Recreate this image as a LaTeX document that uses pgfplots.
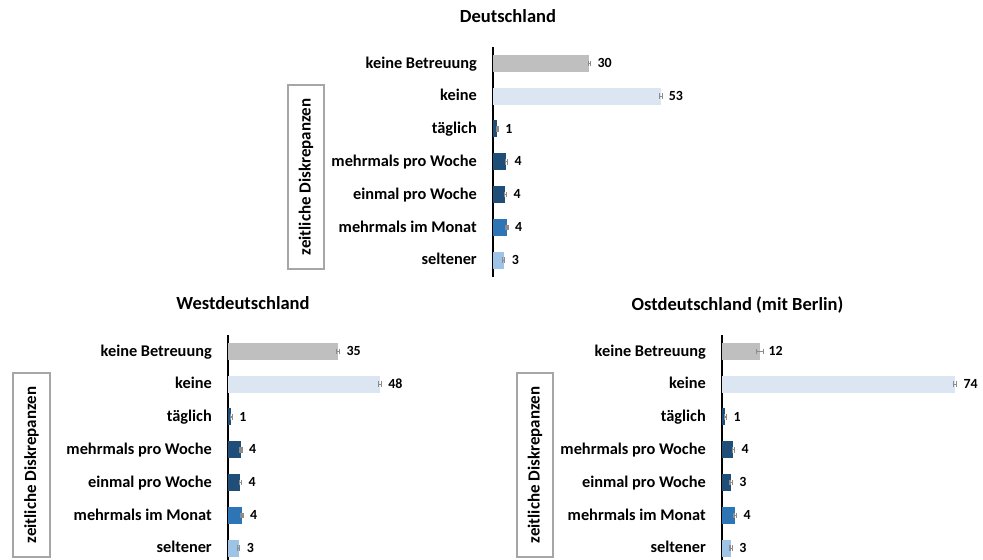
\documentclass[border=0pt]{standalone}
\usepackage{fontspec}
\setmainfont{Carlito}
\usepackage{pgfplots}
\pgfplotsset{compat=1.18}
\definecolor{cgrey}{HTML}{BFBFBF}
\definecolor{clight}{HTML}{DCE6F2}
\definecolor{cnavy}{HTML}{1F4E79}
\definecolor{cmid}{HTML}{2E75B6}
\definecolor{cpale}{HTML}{9DC3E6}
\definecolor{cerr}{HTML}{8C8C8C}
\definecolor{cbox}{HTML}{A6A6A6}

\pgfplotsset{
  panel/.style={
    scale only axis, width=253.6bp, height=229.6bp,
    xmin=0, xmax=80, ymin=-0.5, ymax=6.5, y dir=reverse,
    axis x line=none, axis y line=left,
    y axis line style={-, line width=1.4bp, black},
    ytick={0,...,6}, major tick length=0pt,
    yticklabels={keine Betreuung,keine\ ,täglich,mehrmals pro Woche,einmal pro Woche,mehrmals im Monat,seltener},
    yticklabel style={font=\fontsize{16.4}{18}\selectfont\bfseries, anchor=east, inner sep=0pt, xshift=-16bp, yshift=-1.5bp, text height=0.63em, text depth=0pt},
    clip=false,
    nodes near coords={\pgfmathprintnumber[fixed,precision=0,assume math mode=true]{\pgfplotspointmeta}},
    point meta=x,
    nodes near coords style={anchor=west, inner sep=0pt, xshift=8bp, yshift=-1bp, font=\fontsize{14}{16}\selectfont\bfseries, text height=0.63em, text depth=0pt},
  },
  b/.style={xbar, bar shift=0pt, bar width=17bp, fill=#1, draw=none,
    error bars/.cd, x dir=both, x explicit,
    error bar style={line width=1.2bp, cerr},
    error mark options={rotate=90, mark size=2.8bp, line width=1.2bp, cerr}},
}

\begin{document}
\begin{tikzpicture}
\path[use as bounding box] (0,0) rectangle (983bp,560bp);

% Deutschland
\begin{axis}[panel, at={(493bp,513bp)}, anchor=north west]
\addplot[b=cgrey]  coordinates {(30.4,0) +- (0.4,0)};
\addplot[b=clight] coordinates {(52.9,1) +- (0.5,0)};
\addplot[b=cnavy]  coordinates {(1.3,2) +- (0.3,0)};
\addplot[b=cnavy]  coordinates {(4.2,3) +- (0.3,0)};
\addplot[b=cnavy]  coordinates {(3.9,4) +- (0.3,0)};
\addplot[b=cmid]   coordinates {(4.4,5) +- (0.3,0)};
\addplot[b=cpale]  coordinates {(3.4,6) +- (0.3,0)};
\end{axis}

% Westdeutschland
\begin{axis}[panel, at={(228bp,225bp)}, anchor=north west]
\addplot[b=cgrey]  coordinates {(34.8,0) +- (0.5,0)};
\addplot[b=clight] coordinates {(48.0,1) +- (0.5,0)};
\addplot[b=cnavy]  coordinates {(1.0,2) +- (0.3,0)};
\addplot[b=cnavy]  coordinates {(4.1,3) +- (0.3,0)};
\addplot[b=cnavy]  coordinates {(3.9,4) +- (0.3,0)};
\addplot[b=cmid]   coordinates {(4.4,5) +- (0.3,0)};
\addplot[b=cpale]  coordinates {(3.4,6) +- (0.3,0)};
\end{axis}

% Ostdeutschland
\begin{axis}[panel, at={(722bp,225bp)}, anchor=north west]
\addplot[b=cgrey]  coordinates {(12.1,0) +- (1.1,0)};
\addplot[b=clight] coordinates {(73.6,1) +- (0.5,0)};
\addplot[b=cnavy]  coordinates {(1.05,2) +- (0.3,0)};
\addplot[b=cnavy]  coordinates {(3.6,3) +- (0.4,0)};
\addplot[b=cnavy]  coordinates {(2.9,4) +- (0.4,0)};
\addplot[b=cmid]   coordinates {(4.2,5) +- (0.4,0)};
\addplot[b=cpale]  coordinates {(2.9,6) +- (0.4,0)};
\end{axis}

% titles
\node[anchor=base, font=\fontsize{18.6}{21}\selectfont\bfseries] at (508bp,537bp) {Deutschland};
\node[anchor=base, font=\fontsize{18.6}{21}\selectfont\bfseries] at (243bp,250bp) {Westdeutschland};
\node[anchor=base, font=\fontsize{18.6}{21}\selectfont\bfseries] at (737.5bp,249bp) {Ostdeutschland (mit Berlin)};

% boxes
\draw[cbox, line width=1.2bp] (288bp,475bp) rectangle (324bp,291bp);
\draw[cbox, line width=1.2bp] (13bp,187bp) rectangle (50bp,3bp);
\draw[cbox, line width=1.2bp] (517bp,187bp) rectangle (553bp,3bp);
\node[rotate=90, inner sep=0pt, text height=0.63em, text depth=0pt, font=\fontsize{17}{19}\selectfont\bfseries] at (307.5bp,383bp) {zeitliche Diskrepanzen};
\node[rotate=90, inner sep=0pt, text height=0.63em, text depth=0pt, font=\fontsize{17}{19}\selectfont\bfseries] at (33bp,95bp) {zeitliche Diskrepanzen};
\node[rotate=90, inner sep=0pt, text height=0.63em, text depth=0pt, font=\fontsize{17}{19}\selectfont\bfseries] at (536.5bp,95bp) {zeitliche Diskrepanzen};
\end{tikzpicture}
\end{document}
